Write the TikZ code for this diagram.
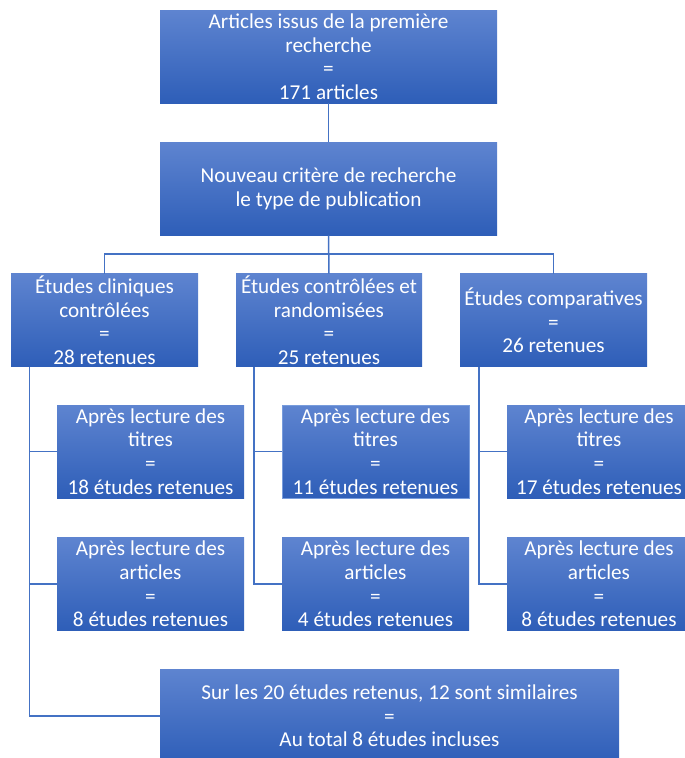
\documentclass[tikz,border=0pt]{standalone}
\usepackage{fontspec}
\setmainfont{Carlito}
\usepackage{xcolor}
\usetikzlibrary{positioning}
\definecolor{boxtop}{RGB}{94,132,208}
\definecolor{boxbot}{RGB}{46,94,184}
\definecolor{lienbleu}{RGB}{68,114,196}
\definecolor{bordclair}{RGB}{120,156,220}

\begin{document}
\begin{tikzpicture}[x=1pt,y=-1pt,
        etape/.style={top color=boxtop,bottom color=boxbot,draw=none,text=white,
            align=center,inner sep=0pt,minimum width=187,minimum height=93,
            font=\fontsize{21.2}{23.7}\selectfont},
        lien/.style={draw=lienbleu,line width=1.5}]
        \useasboundingbox (0,0) rectangle (685,758);
        % connecteurs
        \coordinate (bus) at (0,254);
        \node[etape,minimum width=337] (depart) at (328.5,56.75) {Articles issus de la première\\recherche\\=\\171 articles};
        \node[etape,minimum width=337] (critere) at (328.5,188.75) {Nouveau critère de recherche\\le type de publication};
        \node[etape] (clin) at (104.5,320.3) {Études cliniques\\contrôlées\\=\\28 retenues};
        \node[etape,minimum width=186] (rando) at (329,320.3) {Études contrôlées et\\randomisées\\=\\25 retenues};
        \node[etape] (comp) at (553.5,320.3) {Études comparatives\\=\\26 retenues};
        \node[etape] (clintit) at (150.5,451.5) {Après lecture des\\titres\\=\\18 études retenues};
        \node[etape,draw=bordclair,line width=0.8] (randotit) at (375.5,451.5) {Après lecture des\\titres\\=\\11 études retenues};
        \node[etape,minimum width=184] (comptit) at (599,451.5) {Après lecture des\\titres\\=\\17 études retenues};
        \node[etape] (clinart) at (150.5,584) {Après lecture des\\articles\\=\\8 études retenues};
        \node[etape] (randoart) at (375.5,584) {Après lecture des\\articles\\=\\4 études retenues};
        \node[etape,minimum width=184] (compart) at (599,584) {Après lecture des\\articles\\=\\8 études retenues};
        \node[etape,minimum width=459,minimum height=94] (total) at (389.5,716) {Sur les 20 études retenus, 12 sont similaires\\=\\Au total 8 études incluses};

        \draw[lien] (depart) -- (critere);
        \draw[lien] (critere) -- (rando);
        \draw[lien] (critere.south |- bus) -| (clin.north);
        \draw[lien] (critere.south |- bus) -| (comp.north);
        \draw[lien] ([xshift=18.7]clin.south west) |- (clintit.west);
        \draw[lien] ([xshift=18.7]clin.south west) |- (clinart.west);
        \draw[lien] ([xshift=18.7]clin.south west) |- (total.west);
        \draw[lien] ([xshift=18]rando.south west) |- (randotit.west);
        \draw[lien] ([xshift=18]rando.south west) |- (randoart.west);
        \draw[lien] ([xshift=19]comp.south west) |- (comptit.west);
        \draw[lien] ([xshift=19]comp.south west) |- (compart.west);
    \end{tikzpicture}
\end{document}
